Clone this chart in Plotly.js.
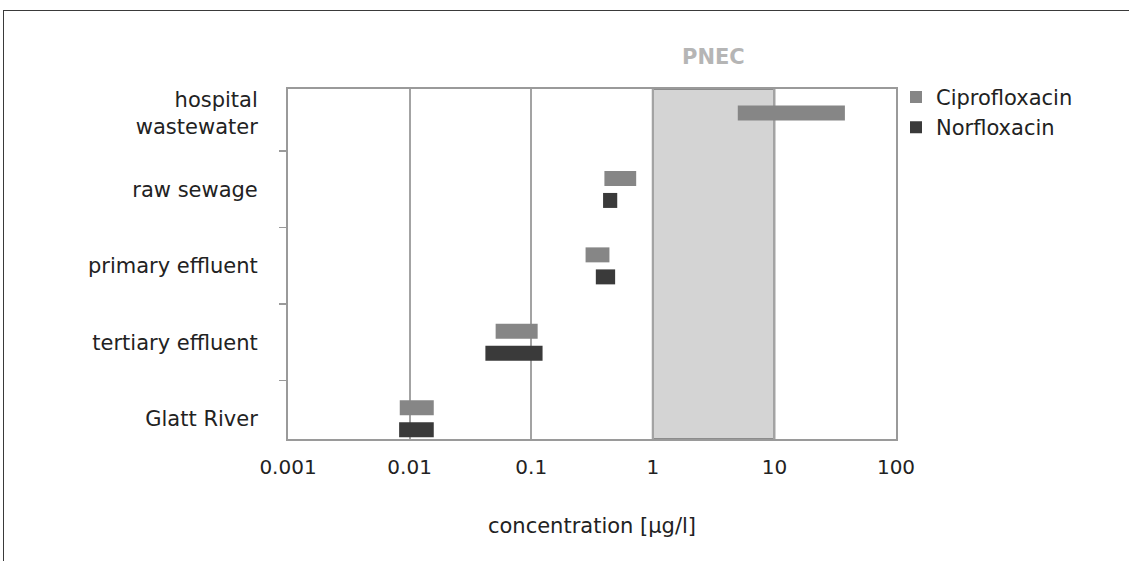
<!DOCTYPE html>
<html>
<head>
<meta charset="utf-8">
<script src="https://cdn.plot.ly/plotly-3.0.1.min.js"></script>
<style>
  html, body { margin: 0; padding: 0; background: #fff; overflow: hidden; }
  #chart { width: 1129px; height: 561px; position: absolute; left: 0; top: 0; }
  #frame { position: absolute; left: 3px; top: 10px; width: 1200px; height: 600px;
           border-left: 1.5px solid #3a3a3a; border-top: 1.5px solid #3a3a3a; pointer-events: none; }
</style>
</head>
<body>
<div id="chart"></div>
<div id="frame"></div>
<script>
// Categories (top to bottom)
const categories = ['hospital<br>wastewater', 'raw sewage', 'primary effluent', 'tertiary effluent', 'Glatt River'];

// Concentration ranges [µg/l]
const cipro_min = [5.0, 0.40, 0.28, 0.051, 0.0083];
const cipro_max = [38, 0.73, 0.44, 0.113, 0.0158];
const nor_min   = [null, 0.39, 0.34, 0.042, 0.0082];
const nor_max   = [null, 0.51, 0.49, 0.124, 0.0158];

// PNEC range [µg/l]
const pnec_range = [1, 10];

// Axis ticks
const tick_vals = [0.001, 0.01, 0.1, 1, 10, 100];
const tick_labels = ['0.001', '0.01', '0.1', '1', '10', '100'];

const FONT = 'DejaVu Sans, Liberation Sans, Arial, sans-serif';

// bar geometry (in category units)
const slot = 0.288, barW = 0.196;
const ciproOffset = nor_min.map(v => v === null ? -barW / 2 : -slot / 2 - barW / 2);
const norOffset = nor_min.map(() => slot / 2 - barW / 2);

const ciproTrace = {
  type: 'bar', orientation: 'h', name: 'Ciprofloxacin',
  y: categories,
  base: cipro_min,
  x: cipro_max.map((v, i) => v - cipro_min[i]),
  width: barW, offset: ciproOffset,
  marker: { color: '#868686', line: { width: 0 } },
  hoverinfo: 'skip'
};
const norTrace = {
  type: 'bar', orientation: 'h', name: 'Norfloxacin',
  y: categories,
  base: nor_min,
  x: nor_max.map((v, i) => (v === null ? null : v - nor_min[i])),
  width: barW, offset: norOffset,
  marker: { color: '#3a3a3a', line: { width: 0 } },
  hoverinfo: 'skip'
};

const layout = {
  width: 1129, height: 561,
  margin: { l: 288, r: 233, t: 89, b: 122 },
  paper_bgcolor: '#ffffff', plot_bgcolor: '#ffffff',
  barmode: 'overlay',
  font: { family: FONT, size: 21, color: '#222' },
  showlegend: true,
  legend: {
    x: 1.0, xanchor: 'left', y: 1.035, yanchor: 'top',
    font: { family: FONT, size: 21, color: '#222' },
    bgcolor: 'rgba(0,0,0,0)', borderwidth: 0, tracegroupgap: 0
  },
  xaxis: {
    type: 'log', range: [Math.log10(0.001), Math.log10(100)],
    tickvals: tick_vals, ticktext: tick_labels,
    ticks: '', ticklabelstandoff: 9,
    tickfont: { family: FONT, size: 20, color: '#222' },
    showgrid: true, gridcolor: '#a3a3a3', gridwidth: 2,
    showline: true, linecolor: '#9a9a9a', linewidth: 2, mirror: true,
    zeroline: false,
    title: { text: 'concentration [µg/l]', standoff: 40,
             font: { family: FONT, size: 21, color: '#222' } }
  },
  yaxis: {
    type: 'category', categoryorder: 'array', categoryarray: categories,
    range: [4.265, -0.314],
    ticks: 'outside', tickson: 'boundaries', ticklen: 7, tickwidth: 1.5, tickcolor: '#9a9a9a',
    ticklabelstandoff: 24,
    tickfont: { family: FONT, size: 21, color: '#222' },
    showgrid: false,
    showline: true, linecolor: '#9a9a9a', linewidth: 2, mirror: true,
    zeroline: false
  },
  shapes: [{
    type: 'rect', xref: 'x', yref: 'paper', layer: 'between',
    x0: pnec_range[0], x1: pnec_range[1], y0: 0, y1: 1,
    fillcolor: '#d4d4d4', line: { color: '#8c8c8c', width: 2 }
  }],
  annotations: [{
    text: 'PNEC', xref: 'x', yref: 'paper',
    x: (Math.log10(pnec_range[0]) + Math.log10(pnec_range[1])) / 2, y: 1,
    xanchor: 'center', yanchor: 'bottom', yshift: 18, showarrow: false,
    font: { family: FONT, size: 21, color: '#b5b5b5', weight: 'bold' }
  }]
};

Plotly.newPlot('chart', [ciproTrace, norTrace], layout, { staticPlot: true, displayModeBar: false });
</script>
</body>
</html>
